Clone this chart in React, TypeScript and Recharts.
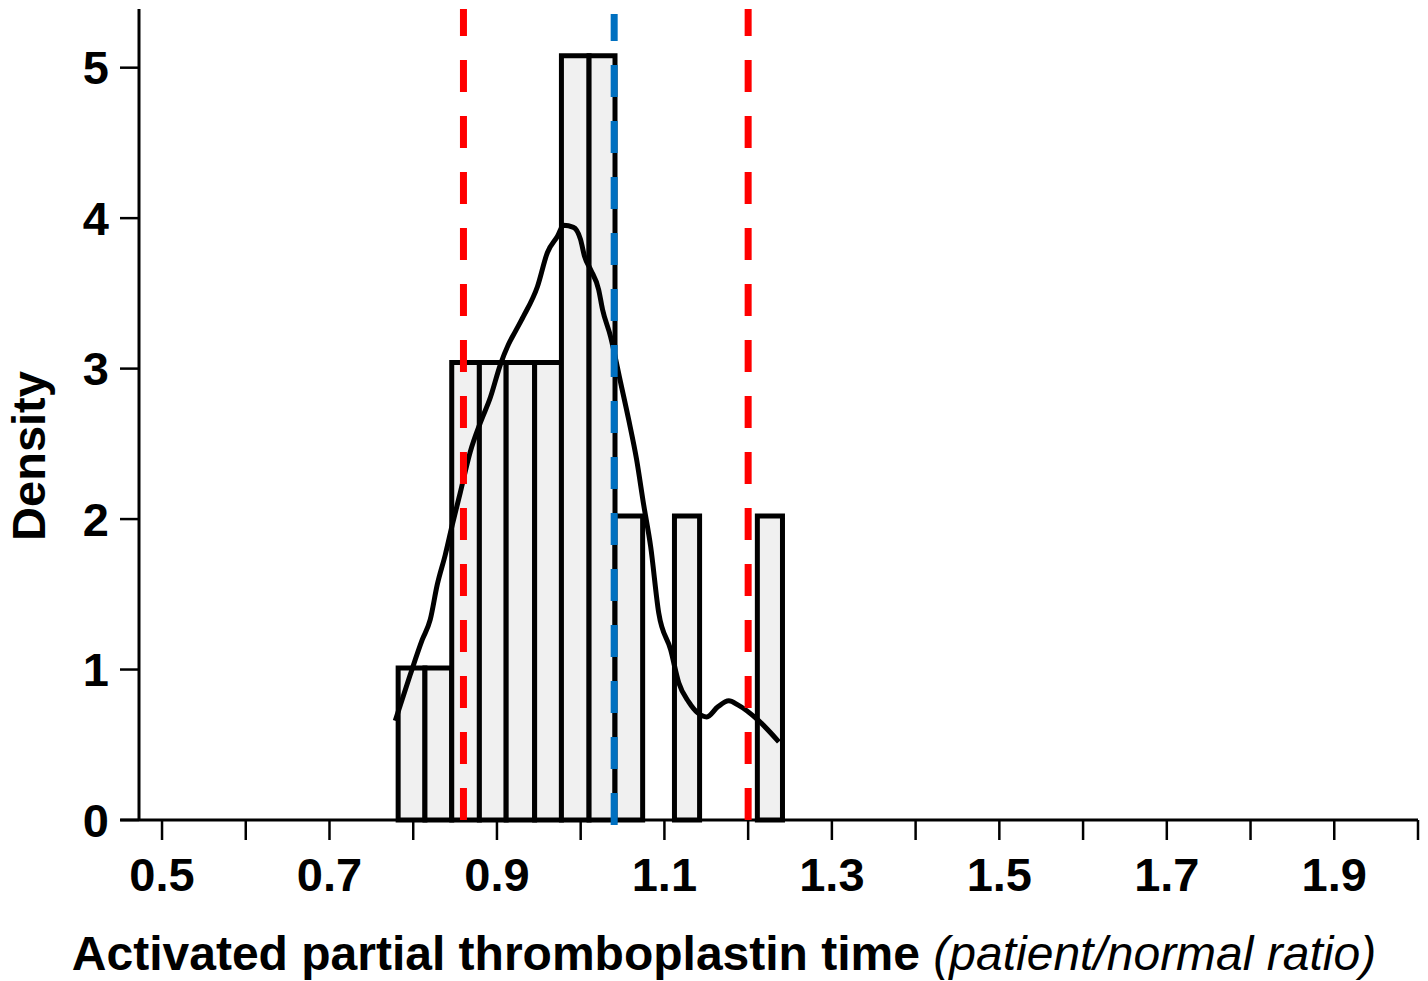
import {
  ComposedChart,
  Line,
  ReferenceArea,
  ReferenceLine,
  XAxis,
  YAxis,
} from 'recharts';

// histogram bins (left edge, right edge, density)
const binLeft = [0.782, 0.814, 0.846, 0.879, 0.911, 0.945, 0.977, 1.01, 1.041, 1.112, 1.211];
const binRight = [0.814, 0.846, 0.879, 0.911, 0.945, 0.977, 1.01, 1.041, 1.074, 1.142, 1.241];
const binDensity = [1.01, 1.01, 3.04, 3.04, 3.04, 3.04, 5.08, 5.08, 2.02, 2.02, 2.02];

// kernel density curve
const kdeX = [
  0.7785, 0.7964, 0.8108, 0.8203, 0.8287, 0.8383, 0.8467, 0.8562, 0.8682, 0.8802,
  0.8921, 0.9041, 0.9137, 0.922, 0.9316, 0.9484, 0.9603, 0.9723, 0.9795, 0.9914,
  0.9998, 1.0046, 1.0118, 1.0214, 1.0261, 1.0357, 1.0477, 1.0573, 1.0668, 1.0752,
  1.0836, 1.0932, 1.1075, 1.1171, 1.129, 1.1398, 1.1506, 1.1638, 1.1769, 1.1877,
  1.2116, 1.2367,
];
const kdeY = [
  0.659, 0.965, 1.198, 1.331, 1.564, 1.763, 1.963, 2.176, 2.448, 2.641,
  2.808, 3.027, 3.16, 3.247, 3.347, 3.546, 3.772, 3.879, 3.952, 3.939,
  3.859, 3.746, 3.659, 3.526, 3.393, 3.213, 2.907, 2.661, 2.395, 2.096,
  1.816, 1.377, 1.131, 0.912, 0.785, 0.712, 0.685, 0.752, 0.792, 0.765,
  0.665, 0.519,
];

// reference lines
const redLines = [0.86, 1.2];
const blueLine = 1.04;

const xTicks = [0.5, 0.6, 0.7, 0.8, 0.9, 1.0, 1.1, 1.2, 1.3, 1.4, 1.5, 1.6, 1.7, 1.8, 1.9, 2.0];
const xLabelled = ['0.5', '0.7', '0.9', '1.1', '1.3', '1.5', '1.7', '1.9'];
const yTicks = [0, 1, 2, 3, 4, 5];

const kdeData = kdeX.map((x, i) => ({ x, y: kdeY[i] }));

const FONT = '"Liberation Sans", Arial, sans-serif';

const XTick = (props: any) => {
  const { x, y, payload } = props;
  const label = Number(payload.value).toFixed(1);
  if (!xLabelled.includes(label)) return <g />;
  return (
    <text x={x} y={y} dy="0.71em" textAnchor="middle" fontFamily={FONT} fontWeight="bold" fontSize={47} fill="#000">
      {label}
    </text>
  );
};

export default function App() {
  return (
    <div style={{ position: 'absolute', left: 0, top: 0 }}>
      <ComposedChart
        width={1428}
        height={981}
        margin={{ top: 9, right: 10, left: 0, bottom: 0 }}
      >
        <XAxis
          type="number"
          dataKey="x"
          domain={[0.4725, 2.0]}
          ticks={xTicks}
          allowDataOverflow
          axisLine={false}
          tickSize={20}
          tickMargin={18}
          tickLine={{ stroke: '#000', strokeWidth: 2.5 }}
          tick={<XTick />}
          height={161}
          label={{
            content: () => (
              <text x={724} y={970} textAnchor="middle" fontFamily={FONT} fontSize={48} fill="#000">
                <tspan fontWeight="bold">Activated partial thromboplastin time</tspan>
                <tspan fontStyle="italic"> (patient/normal ratio)</tspan>
              </text>
            ),
          }}
        />
        <YAxis
          type="number"
          domain={[0, 5.39]}
          ticks={yTicks}
          allowDataOverflow
          width={139}
          axisLine={{ stroke: '#000', strokeWidth: 3 }}
          tickSize={19}
          tickMargin={11}
          tickLine={{ stroke: '#000', strokeWidth: 2.5 }}
          tick={{ fontFamily: FONT, fontWeight: 'bold', fontSize: 47, fill: '#000' }}
          label={{
            content: () => (
              <text
                x={45}
                y={456}
                textAnchor="middle"
                transform="rotate(-90, 45, 456)"
                fontFamily={FONT}
                fontWeight="bold"
                fontSize={47}
                fill="#000"
              >
                Density
              </text>
            ),
          }}
        />
        {binLeft.map((x1, i) => (
          <ReferenceArea
            key={`bin-${i}`}
            x1={x1}
            x2={binRight[i]}
            y1={0}
            y2={binDensity[i]}
            fill="#f0f0f0"
            fillOpacity={1}
            stroke="#000"
            strokeWidth={5}
            ifOverflow="visible"
          />
        ))}
        <ReferenceLine
          segment={[{ x: 0.45, y: 0 }, { x: 2.0, y: 0 }]}
          stroke="#000"
          strokeWidth={3}
          ifOverflow="visible"
        />
        <Line
          data={kdeData}
          dataKey="y"
          type="monotone"
          stroke="#000"
          strokeWidth={5}
          dot={false}
          activeDot={false}
          isAnimationActive={false}
        />
        {redLines.map((x) => (
          <ReferenceLine
            key={`red-${x}`}
            segment={[{ x, y: 0 }, { x, y: 5.39 }]}
            stroke="#ff0000"
            strokeWidth={7}
            strokeDasharray="32 24"
            ifOverflow="visible"
          />
        ))}
        <ReferenceLine
          segment={[{ x: blueLine, y: -0.033 }, { x: blueLine, y: 5.356 }]}
          stroke="#0070c0"
          strokeWidth={7}
          strokeDasharray="32 24"
          ifOverflow="visible"
        />
      </ComposedChart>
    </div>
  );
}
